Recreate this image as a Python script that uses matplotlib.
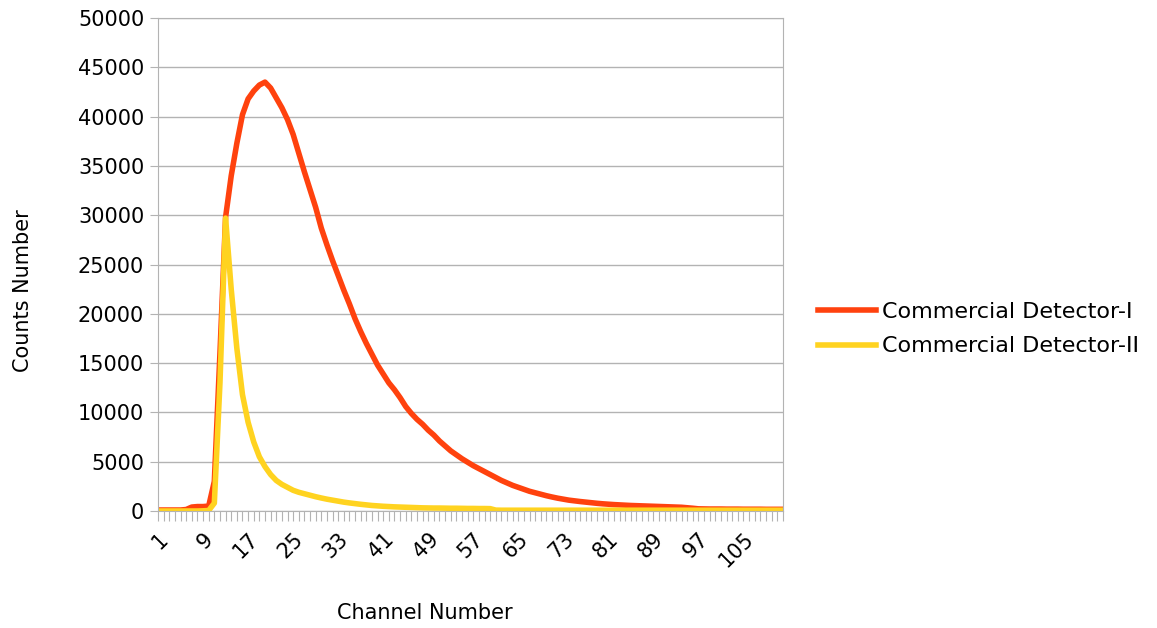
import matplotlib.pyplot as plt

plt.rcParams['font.family'] = ['DejaVu Sans']

channels = list(range(1, 113))

detector_1 = [
    100, 100, 100, 100, 100, 150, 400, 450, 450, 500,
    3000, 16000, 29800, 34000, 37300, 40200, 41800, 42600, 43200, 43500,
    42900, 41900, 40900, 39700, 38200, 36300, 34400, 32600, 30800, 28700,
    27000, 25400, 23900, 22400, 21000, 19500, 18200, 17000, 15900, 14800,
    13900, 13000, 12300, 11500, 10600, 9900, 9300, 8800, 8200, 7700,
    7100, 6600, 6100, 5700, 5300, 4950, 4600, 4300, 4000, 3700,
    3400, 3100, 2850, 2600, 2400, 2200, 2000, 1850, 1700, 1550,
    1420, 1300, 1200, 1100, 1030, 960, 900, 840, 780, 730,
    690, 650, 620, 590, 560, 540, 520, 500, 480, 460,
    440, 420, 400, 380, 330, 280, 220, 210, 200, 200,
    200, 190, 190, 190, 180, 180, 180, 180, 170, 170,
    170, 170,
]

detector_2 = [
    0, 0, 0, 0, 0, 0, 0, 0, 20, 50,
    800, 13000, 29700, 22500, 16500, 11800, 9000, 7000, 5500, 4500,
    3700, 3100, 2700, 2400, 2100, 1900, 1750, 1600, 1450, 1320,
    1200, 1100, 1000, 900, 820, 750, 680, 620, 560, 520,
    480, 450, 420, 400, 380, 360, 340, 320, 310, 300,
    300, 290, 280, 280, 270, 260, 260, 250, 250, 240,
    90, 80, 80, 80, 80, 80, 80, 80, 80, 80,
    80, 80, 80, 80, 80, 80, 80, 80, 80, 80,
    80, 80, 80, 80, 80, 80, 80, 80, 80, 80,
    80, 80, 80, 80, 80, 80, 80, 80, 80, 80,
    80, 80, 80, 80, 80, 80, 80, 80, 80, 80,
    80, 80,
]

fig = plt.figure(figsize=(11.57, 6.28), dpi=100)
ax = fig.add_axes([0.1366, 0.1863, 0.54, 0.785])

ax.plot(channels, detector_1, color='#FF420E', lw=4, label='Commercial Detector-I')
ax.plot(channels, detector_2, color='#FFD320', lw=4, label='Commercial Detector-II')

ax.set_xlim(1, 112)
ax.set_ylim(0, 50000)
ax.set_yticks(range(0, 50001, 5000))
ax.yaxis.grid(True, color='#b3b3b3', lw=1)
ax.set_axisbelow(True)

ax.set_xticks(channels)
ax.set_xticklabels([str(c) if (c - 1) % 8 == 0 else '' for c in channels],
                   rotation=45, ha='right', va='top', rotation_mode='anchor')
ax.tick_params(axis='x', length=7, color='#b3b3b3', labelsize=15, pad=6)
ax.tick_params(axis='y', length=6, color='#b3b3b3', labelsize=15, pad=4)

for s in ax.spines.values():
    s.set_color('#b3b3b3')

ax.set_xlabel('Channel Number', fontsize=15)
ax.set_ylabel('Counts Number', fontsize=15)
ax.xaxis.set_label_coords(0.427, -0.187)
ax.yaxis.set_label_coords(-0.2, 0.448)

fig.legend(loc='center left', bbox_to_anchor=(0.707, 0.476), frameon=False,
           fontsize=16, handlelength=2.6, handletextpad=0.3, labelspacing=0.65,
           borderpad=0, borderaxespad=0)

fig.savefig('out.png', dpi=100)
